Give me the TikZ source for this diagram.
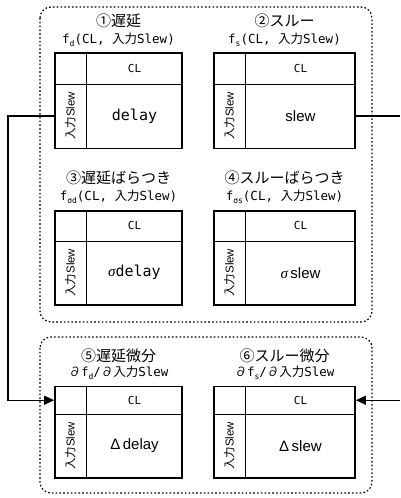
\documentclass[tikz,border=0pt]{standalone}
\usepackage{fontspec}
\setmainfont{Noto Sans CJK JP}
\newfontfamily\jpfam{Noto Sans CJK JP}
\newfontfamily\monofam{DejaVu Sans Mono}
\newfontfamily\sansfam{Liberation Sans}
\newfontfamily\sigfam{Liberation Serif}
\usetikzlibrary{arrows.meta,calc}

\tikzset{
  groupframe/.style={draw, line width=1.2pt, dash pattern=on 1.6pt off 2.2pt, rounded corners=11pt},
  lutbox/.style={draw, line width=1.6pt, inner sep=0pt},
  lutgrid/.style={line width=1.3pt},
  conn/.style={line width=1.2pt},
  tip/.style={-{Triangle[length=10pt,width=9pt]}},
  ttl/.style={font=\fontsize{15}{17}\selectfont, inner sep=0pt},
  fn/.style={font=\monofam\fontsize{12.5}{14}\selectfont, inner sep=0pt},
  hdr/.style={font=\monofam\fontsize{11}{12}\selectfont, inner sep=0pt},
  axislbl/.style={font=\fontsize{11.5}{13}\selectfont, rotate=90, inner sep=0pt},
  val/.style={font=\fontsize{15}{17}\selectfont, inner sep=0pt},
}

% subscript in the current family
\newcommand\sub[1]{\raisebox{-2.5pt}{\fontsize{8}{8}\selectfont #1}}
\newcommand\sig{{\sigfam\itshape σ}}

% lookup table: name, centre x, centre y, width, height, header height, value
\newcommand\lut[7]{%
  \node[lutbox, minimum width=#4pt, minimum height=#5pt] (#1) at (#2,#3) {};
  \draw[lutgrid] ($(#1.north west)+(0,#6)$) -- ($(#1.north east)+(0,#6)$);
  \draw[lutgrid] ($(#1.north west)+(32,0)$) -- ($(#1.south west)+(32,0)$);
  \coordinate (#1-hw) at ($(#1.north west)+(0,{#6/2})$);
  \coordinate (#1-he) at ($(#1.north east)+(0,{#6/2})$);
  \coordinate (#1-bw) at ($(#1.north west)+(0,{(#6+#5)/2})$);
  \coordinate (#1-be) at ($(#1.north east)+(0,{(#6+#5)/2})$);
  \node[hdr] (#1-cl) at ($(#1-hw)!0.5!(#1-he)+(16,0)$) {CL};
  \node[axislbl] (#1-in) at ($(#1-bw)+(16,0)$) {入力{\sansfam Slew}};
  \node[val] (#1-val) at ($(#1-bw)!0.5!(#1-be)+(16,0)$) {#7};
}

\begin{document}
\begin{tikzpicture}[x=1pt,y=-1pt]
\useasboundingbox (0,0) rectangle (400,498);

% dotted group frames
\draw[groupframe] (40,7) rectangle (372,322);
\draw[groupframe] (40,337) rectangle (372,493);

% tables
\lut{t1}{118.5}{100.75}{127}{95.5}{32}{{\monofam delay}}
\lut{t2}{284.5}{100.75}{141}{95.5}{32}{{\sansfam slew}}
\lut{t3}{118.5}{258}{127}{94}{31}{\sig{\monofam delay}}
\lut{t4}{284.5}{258}{141}{94}{31}{\sig\,{\sansfam slew}}
\lut{t5}{118.5}{432.25}{127}{91.5}{29}{{\sansfam Δ\,delay}}
\lut{t6}{284.5}{432.25}{141}{91.5}{29}{{\sansfam Δ\,slew}}

% titles
\node[ttl] (t1-name) at (118.5,21) {①遅延};
\node[fn]  (t1-fn)   at (118.5,40) {f\sub{d}(CL, {\jpfam 入力}Slew)};
\node[ttl] (t2-name) at (284.5,21) {②スルー};
\node[fn]  (t2-fn)   at (284.5,40) {f\sub{s}(CL, {\jpfam 入力}Slew)};
\node[ttl] (t3-name) at (118.5,178) {③遅延ばらつき};
\node[fn]  (t3-fn)   at (118.5,197) {f\sub{σd}(CL, {\jpfam 入力}Slew)};
\node[ttl] (t4-name) at (284.5,178) {④スルーばらつき};
\node[fn]  (t4-fn)   at (284.5,197) {f\sub{σs}(CL, {\jpfam 入力}Slew)};
\node[ttl] (t5-name) at (118.5,356) {⑤遅延微分};
\node[fn]  (t5-fn)   at (118.5,373) {{\jpfam ∂}f\sub{d}/{\jpfam ∂入力}Slew};
\node[ttl] (t6-name) at (284.5,356) {⑥スルー微分};
\node[fn]  (t6-fn)   at (284.5,373) {{\jpfam ∂}f\sub{s}/{\jpfam ∂入力}Slew};

% connectors
\coordinate (railL) at (8,0);
\coordinate (edgeR) at (400,0);
\draw[conn, tip] (t1-bw) -- (t1-bw -| railL) -- (railL |- t5-hw) -- (t5-hw);
\draw[conn] (t2-be) -- (t2-be -| edgeR);
\draw[conn, tip] (edgeR |- t6-he) -- (t6-he);
\end{tikzpicture}
\end{document}
